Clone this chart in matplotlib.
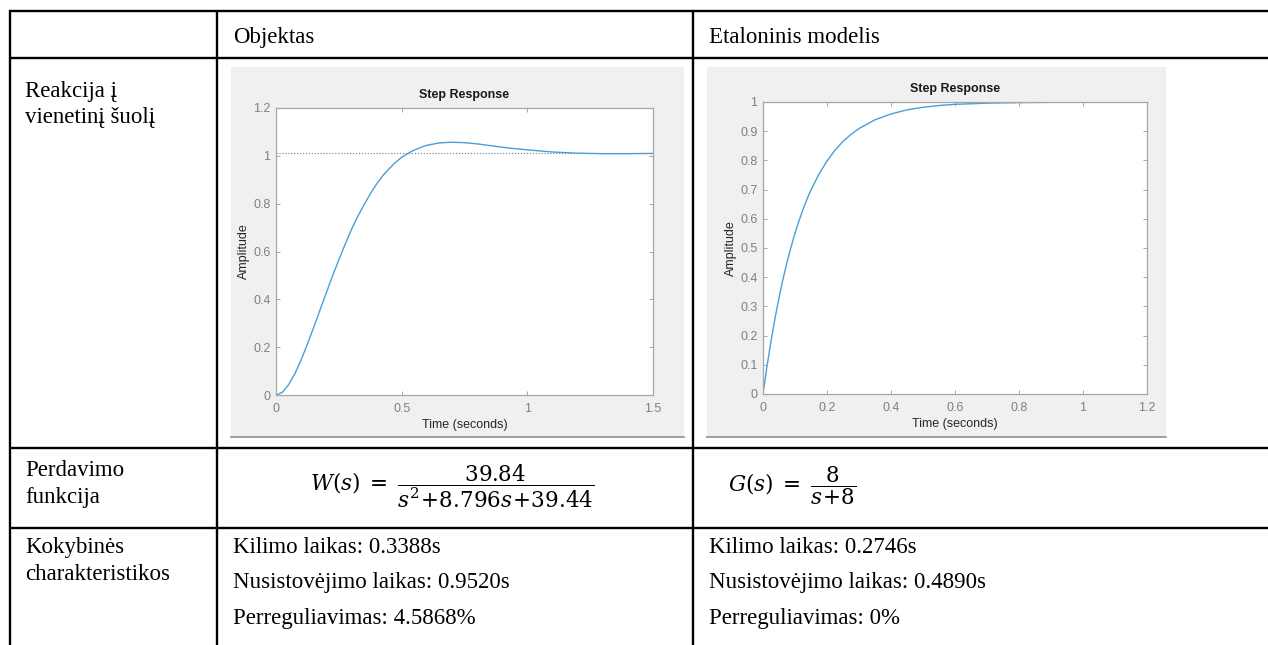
import matplotlib
matplotlib.use("Agg")
import matplotlib.pyplot as plt
from matplotlib.lines import Line2D
from matplotlib.patches import Rectangle
from matplotlib.ticker import FuncFormatter

W, H = 1268, 645

# table text
col_headers = ["Objektas", "Etaloninis modelis"]
row_labels = [["Reakcija į", "vienetinį šuolį"],
              ["Perdavimo", "funkcija"],
              ["Kokybinės", "charakteristikos"]]
tf_obj = r"$W(s)\;=\;\dfrac{39.84}{s^2\!+\!8.796s\!+\!39.44}$"
tf_ref = r"$G(s)\;=\;\dfrac{8}{s\!+\!8}$"
char_obj = ["Kilimo laikas: 0.3388s", "Nusistovėjimo laikas: 0.9520s", "Perreguliavimas: 4.5868%"]
char_ref = ["Kilimo laikas: 0.2746s", "Nusistovėjimo laikas: 0.4890s", "Perreguliavimas: 0%"]

# step responses
t_obj = [0, 0.025, 0.05, 0.075, 0.1, 0.125, 0.15, 0.175, 0.2, 0.225, 0.25, 0.275, 0.3,
         0.325, 0.35, 0.375, 0.4, 0.425, 0.45, 0.475, 0.5, 0.525, 0.55, 0.575, 0.6, 0.65,
         0.7, 0.75, 0.8, 0.85, 0.9, 0.95, 1.0, 1.1, 1.2, 1.3, 1.4, 1.5]
y_obj = [0, 0.011, 0.043, 0.089, 0.147, 0.213, 0.283, 0.355, 0.427, 0.498, 0.565, 0.630,
         0.692, 0.746, 0.795, 0.841, 0.882, 0.917, 0.946, 0.972, 0.994, 1.010, 1.024,
         1.035, 1.044, 1.054, 1.057, 1.055, 1.050, 1.043, 1.036, 1.030, 1.025, 1.016,
         1.011, 1.009, 1.009, 1.010]
ss_obj = 1.0101

t_ref = [0, 0.0125, 0.025, 0.0375, 0.05, 0.0625, 0.075, 0.0875, 0.1, 0.1125, 0.125, 0.1375,
         0.15, 0.175, 0.2, 0.225, 0.25, 0.275, 0.3, 0.35, 0.4, 0.45, 0.5, 0.55, 0.6, 0.7,
         0.8, 0.9, 1.0, 1.1, 1.2]
y_ref = [0, 0.095, 0.181, 0.259, 0.330, 0.394, 0.451, 0.503, 0.551, 0.593, 0.632, 0.667,
         0.699, 0.753, 0.798, 0.835, 0.865, 0.889, 0.909, 0.939, 0.959, 0.973, 0.982,
         0.988, 0.992, 0.996, 0.998, 0.999, 1.0, 1.0, 1.0]
ss_ref = 1.0

fig = plt.figure(figsize=(W / 100, H / 100), dpi=100)
fig.patch.set_facecolor("white")


def fx(x):
    return x / W


def fy(y):
    return 1 - y / H


def hline(y, x0, x1):
    fig.add_artist(Line2D([fx(x0), fx(x1)], [fy(y), fy(y)], color="black", lw=1.7,
                          solid_capstyle="butt"))


def vline(x, y0, y1):
    fig.add_artist(Line2D([fx(x), fx(x)], [fy(y0), fy(y1)], color="black", lw=1.7,
                          solid_capstyle="butt"))


# table rules
for y in [10.5, 57.5, 448, 527.5]:
    hline(y, 9, W)
for x in [10, 217, 693]:
    vline(x, 9.5, H)

serif = dict(family="Liberation Serif", fontsize=16.5, color="black", va="baseline")
fig.text(fx(233), fy(43), col_headers[0], **serif)
fig.text(fx(709), fy(43), col_headers[1], **serif)
for lines, ys in zip(row_labels, [(97, 123), (476, 503), (553, 580)]):
    for s, y in zip(lines, ys):
        fig.text(fx(25), fy(y), s, **serif)
for i, y in enumerate([553, 588, 624]):
    fig.text(fx(233), fy(y), char_obj[i], **serif)
    fig.text(fx(709), fy(y), char_ref[i], **serif)

plt.rcParams["mathtext.fontset"] = "dejavuserif"
fig.text(fx(452), fy(486), tf_obj, fontsize=15.5, va="center", ha="center")
fig.text(fx(728), fy(486), tf_ref, fontsize=15.5, va="center", ha="left")

# matlab-like figure panels
for (x0, x1) in [(231, 684), (707, 1166)]:
    fig.add_artist(Rectangle((fx(x0), fy(437)), fx(x1 - x0), (437 - 67) / H,
                             facecolor="#f0f0f0", edgecolor="none", zorder=0))
    fig.add_artist(Line2D([fx(x0), fx(x1)], [fy(436.5), fy(436.5)], color="#8f8f8f", lw=1.2))

fmt = FuncFormatter(lambda v, p: f"{v:g}")
sans = "Liberation Sans"


def step_axes(box, t, y, ss, xmax, ymax, xt, yt):
    x0, y0, x1, y1 = box
    ax = fig.add_axes([fx(x0), fy(y1), fx(x1 - x0), (y1 - y0) / H])
    ax.plot([0, xmax], [ss, ss], ls=":", color="#7a7a7a", lw=0.8)
    ax.plot(t, y, color="#4a9fd8", lw=1.0)
    ax.set_xlim(0, xmax)
    ax.set_ylim(0, ymax)
    ax.set_xticks(xt)
    ax.set_yticks(yt)
    ax.xaxis.set_major_formatter(fmt)
    ax.yaxis.set_major_formatter(fmt)
    for sp in ax.spines.values():
        sp.set_color("#a6a6a6")
        sp.set_linewidth(0.9)
    ax.tick_params(direction="in", length=3, width=0.7, color="#a6a6a6",
                   top=True, right=True, labelsize=9, labelcolor="#808080")
    ax.tick_params(axis="x", pad=6)
    ax.tick_params(axis="y", pad=4)
    for lab in ax.get_xticklabels() + ax.get_yticklabels():
        lab.set_family(sans)
    ax.set_title("Step Response", fontsize=9, fontweight="bold", family=sans,
                 color="#1a1a1a", pad=7)
    ax.set_xlabel("Time (seconds)", fontsize=9, family=sans, color="#262626", labelpad=2.5)
    ax.set_ylabel("Amplitude", fontsize=9, family=sans, color="#262626", labelpad=2)
    return ax


step_axes((276, 108, 653, 395), t_obj, y_obj, ss_obj, 1.5, 1.2,
          [0, 0.5, 1, 1.5], [0, 0.2, 0.4, 0.6, 0.8, 1, 1.2])
step_axes((763, 102, 1147, 394), t_ref, y_ref, ss_ref, 1.2, 1.0,
          [0, 0.2, 0.4, 0.6, 0.8, 1, 1.2], [0, 0.1, 0.2, 0.3, 0.4, 0.5, 0.6, 0.7, 0.8, 0.9, 1])

fig.savefig("out.png", dpi=100)
